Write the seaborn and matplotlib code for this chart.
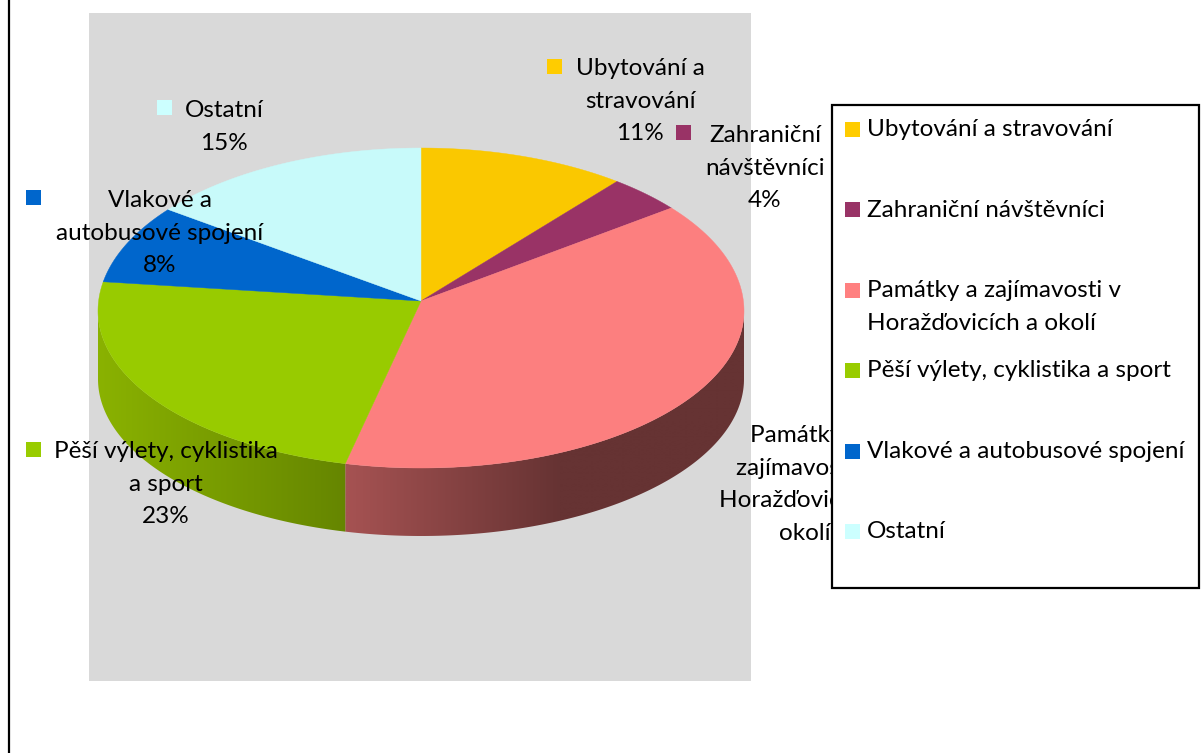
import numpy as np
import matplotlib
matplotlib.use('Agg')
import matplotlib.pyplot as plt
from matplotlib.patches import Rectangle, Polygon
import seaborn as sns

# slice shares (labels show them rounded)
categories = ['Ubytování a stravování', 'Zahraniční návštěvníci',
              'Památky a zajímavosti v Horažďovicích a okolí',
              'Pěší výlety, cyklistika a sport',
              'Vlakové a autobusové spojení', 'Ostatní']
values = [11.0, 3.9, 38.6, 23.4, 8.0, 15.1]
top_colors = ['#FAC800', '#993366', '#FC7F7F', '#98CB00', '#0066CC', '#C8FAFA']
key_colors = ['#FFCC00', '#993366', '#FF8080', '#99CC00', '#0066CC', '#CCFFFF']

# wrapped name of each slice label, the percentage goes underneath
label_lines = [['Ubytování a', 'stravování'],
               ['Zahraniční', 'návštěvníci'],
               ['Památky a', 'zajímavosti v', 'Horažďovicích a', 'okolí'],
               ['Pěší výlety, cyklistika', 'a sport'],
               ['Vlakové a', 'autobusové spojení'],
               ['Ostatní']]
show_percent = [True, True, False, True, True, True]  # the 39% is not visible in the picture
legend_lines = [['Ubytování a stravování'], ['Zahraniční návštěvníci'],
                ['Památky a zajímavosti v', 'Horažďovicích a okolí'],
                ['Pěší výlety, cyklistika a sport'],
                ['Vlakové a autobusové spojení'], ['Ostatní']]

# layout in pixels
label_x = [640, 765, 805, 166, 160, 224]
label_y = [75, 142, 442, 458, 207, 117]
label_key = [(547, 59), (676, 125), None, (26, 442), (26, 190), (157, 100)]
legend_y = [136, 217, 297, 377, 458, 538]
legend_key_y = [122, 202, 283, 363, 444, 524]

sns.set_theme(style='white')
plt.rcParams['font.family'] = ['Lato', 'DejaVu Sans']
FS = 17.5

fig = plt.figure(figsize=(12.02, 7.53), dpi=100)
ax = fig.add_axes([0, 0, 1, 1])
ax.axis('off')

ax.plot([9, 9], [0, 753], color='black', lw=1.6, zorder=1)
ax.add_patch(Rectangle((89, 13), 662, 668, fc='#D9D9D9', ec='none', zorder=1))

# pie outline, a bit deeper at the back and wedges meet above the centre
cx, cy, rx, ry_back, ry_front = 421, 311, 323, 163, 157
apex_x, apex_y = 421, 301
depth = 68


def outline(t):
    r = np.radians(t)
    ry = np.where(np.cos(r) > 0, ry_back, ry_front)
    return cx + rx * np.sin(r), cy - ry * np.cos(r)


ts = np.linspace(0, 360, 1441)
ox, oy = outline(ts)
squash = np.where(oy < apex_y, 163, 155)
out_angle = np.degrees(np.arctan2((ox - apex_x) / rx, -(oy - apex_y) / squash)) % 360
out_angle[-1] = 360
edges = np.cumsum([0] + values) * 360 / sum(values)
edge_t = np.interp(edges, out_angle, ts)


# side face: gradient image across x, clipped to the rim
def side(t0, t1, stops):
    t = np.linspace(t0, t1, 300)
    x, y = outline(t)
    xs = [s[0] for s in stops]
    grid = np.arange(int(x.min()) - 1, int(x.max()) + 2)
    rgb = np.array([matplotlib.colors.to_rgb(s[1]) for s in stops])
    img = np.stack([np.interp(grid, xs, rgb[:, k]) for k in range(3)], axis=-1)[None, :, :]
    im = ax.imshow(img, extent=(grid[0], grid[-1], y.max() + depth + 2, y.min() - 2),
                   aspect='auto', interpolation='bilinear', zorder=2)
    clip = Polygon(np.c_[np.r_[x, x[::-1]], np.r_[y, y[::-1] + depth]], closed=True,
                   transform=ax.transData, fc='none', ec='none')
    ax.add_patch(clip)
    im.set_clip_path(clip)


side(90, edge_t[3], [(349, '#A55252'), (560, '#663333'), (744, '#663333')])
side(edge_t[3], 270, [(98, '#8AB200'), (349, '#658500')])

for i, c in enumerate(top_colors):
    t = np.linspace(edge_t[i], edge_t[i + 1], 200)
    x, y = outline(t)
    ax.fill(np.r_[apex_x, x], np.r_[apex_y, y], fc=c, ec=c, lw=0.3, zorder=3)

# slice labels
for i, lines in enumerate(label_lines):
    rows = lines + ['%d%%' % round(values[i])] if show_percent[i] else lines
    for j, row in enumerate(rows):
        ax.text(label_x[i], label_y[i] + j * 32.7, row, ha='center', va='baseline',
                fontsize=FS, color='black', zorder=5)
    if label_key[i]:
        ax.add_patch(Rectangle(label_key[i], 15, 15, fc=key_colors[i], ec='none', zorder=5))

# legend box sits on top and hides part of the long label
ax.add_patch(Rectangle((832, 105), 367, 483, fc='white', ec='black', lw=1.6, zorder=6))
for i, lines in enumerate(legend_lines):
    ax.add_patch(Rectangle((845, legend_key_y[i]), 15, 15, fc=key_colors[i], ec='none', zorder=7))
    for j, row in enumerate(lines):
        ax.text(867, legend_y[i] + j * 33, row, ha='left', va='baseline',
                fontsize=FS, color='black', zorder=7)

ax.set_xlim(0, 1202)
ax.set_ylim(753, 0)
fig.savefig('out.png', dpi=100)
